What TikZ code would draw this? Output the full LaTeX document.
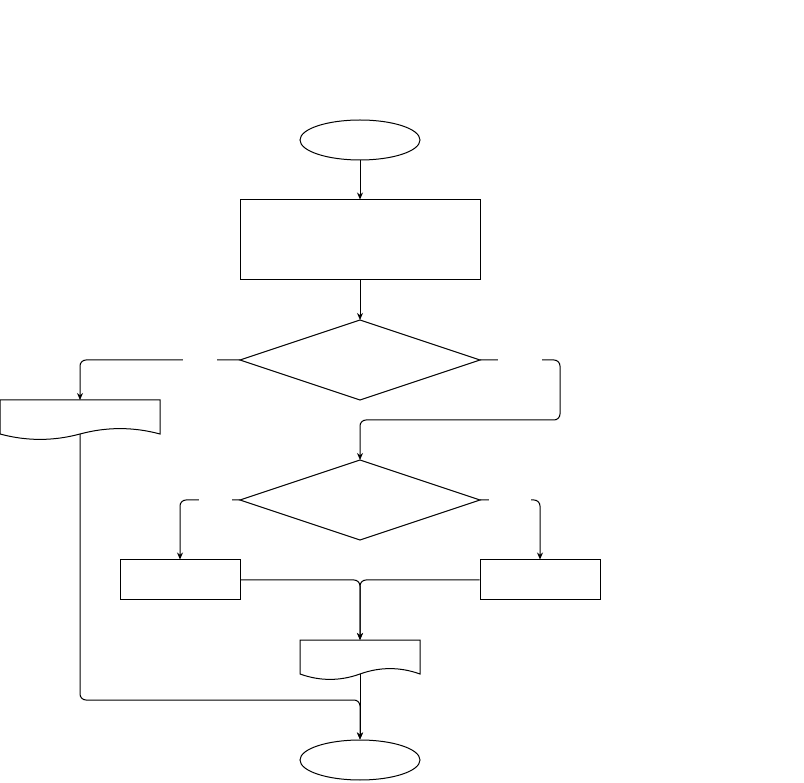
\documentclass[tikz,border=0pt]{standalone}
\usetikzlibrary{arrows.meta,shapes.geometric}
\begin{document}
\begin{tikzpicture}[x=1pt,y=-1pt,
  line width=1pt,
  box/.style={draw,minimum width=#1,inner sep=0pt},
  term/.style={draw,ellipse,minimum width=120pt,minimum height=40pt,inner sep=0pt},
  dec/.style={draw,diamond,minimum width=240pt,minimum height=80pt,inner sep=0pt,aspect=3},
  conn/.style={-{Stealth[length=7pt,width=6pt]},rounded corners=6pt},
  gap/.style={fill=white,inner sep=0pt,minimum height=4pt}]
\useasboundingbox (0,0) rectangle (804,783);
% nodes
\node[term] (start) at (360,140) {};
\node[draw,minimum width=240pt,minimum height=80pt,inner sep=0pt] (proc) at (360,240) {};
\node[draw,shape=coordinate] (d1c) at (360,360) {};
\draw (240,360) coordinate (d1w) -- (360,320) coordinate (d1n) -- (480,360) coordinate (d1e) -- (360,400) coordinate (d1s) -- cycle;
\draw (240,500) coordinate (d2w) -- (360,460) coordinate (d2n) -- (480,500) coordinate (d2e) -- (360,540) coordinate (d2s) -- cycle;
\node[draw,minimum width=120pt,minimum height=40pt,inner sep=0pt] (bl) at (180,580) {};
\node[draw,minimum width=120pt,minimum height=40pt,inner sep=0pt] (br) at (540,580) {};
\node[term] (end) at (360,760) {};
% documents
\draw (0,400) coordinate (doc1nw) -- (160,400) -- (160,434)
  .. controls (133.3,426.8) and (106.7,426.8) .. (80,434) coordinate (doc1s)
  .. controls (53.3,441.2) and (26.7,441.2) .. (0,434) -- cycle;
\coordinate (doc1n) at (80,400);
\draw (300,640) -- (420,640) -- (420,674)
  .. controls (400,666.8) and (380,666.8) .. (360,674) coordinate (doc2s)
  .. controls (340,681.2) and (320,681.2) .. (300,674) -- cycle;
\coordinate (doc2n) at (360,640);
% connectors
\draw[conn] (start.south) -- (proc.north);
\draw[conn] (proc.south) -- (d1n);
\draw[conn] (d1w) -- (80,360) -- (doc1n);
\draw[conn] (d1e) -- (560,360) -- (560,420) -- (360,420) -- (d2n);
\draw[conn] (d2w) -- (180,500) -- (bl.north);
\draw[conn] (d2e) -- (540,500) -- (br.north);
\draw[conn] (bl.east) -- (360,580) -- (doc2n);
\draw[conn] (br.west) -- (360,580) -- (doc2n);
\draw[conn] (doc2s) -- (end.north);
\draw[conn] (doc1s) -- (80,700) -- (360,700) -- (end.north);
% empty label gaps
\node[gap,minimum width=34pt] (g1) at (200,360) {};
\node[gap,minimum width=44pt] (g2) at (520,360) {};
\node[gap,minimum width=33pt] (g3) at (215.5,500) {};
\node[gap,minimum width=42pt] (g4) at (510,500) {};
\end{tikzpicture}
\end{document}
